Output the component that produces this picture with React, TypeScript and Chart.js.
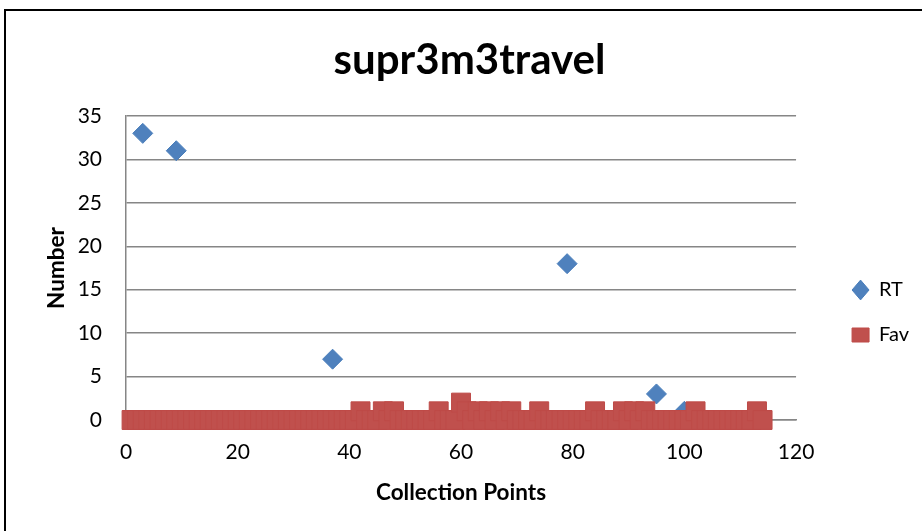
import React, { useEffect, useRef } from "react";
import { Chart, registerables } from "chart.js";

Chart.register(...registerables);

const chartTitle = "supr3m3travel";
const xAxisTitle = "Collection Points";
const yAxisTitle = "Number";

// RT series (collection point, value)
const rtX = [3, 9, 37, 79, 95, 100];
const rtY = [33, 31, 7, 18, 3, 1];

// Fav series (collection point, value)
const favX = [
  1, 2, 3, 4, 5, 6, 7, 8, 9, 10,
  11, 12, 13, 14, 15, 16, 17, 18, 19, 20,
  21, 22, 23, 24, 25, 26, 27, 28, 29, 30,
  31, 32, 33, 34, 35, 36, 37, 38, 39, 40,
  41, 42, 43, 44, 45, 46, 47, 48, 49, 50,
  51, 52, 53, 54, 55, 56, 57, 58, 59, 60,
  61, 62, 63, 64, 65, 66, 67, 68, 69, 70,
  71, 72, 73, 74, 75, 76, 77, 78, 79, 80,
  81, 82, 83, 84, 85, 86, 87, 88, 89, 90,
  91, 92, 93, 94, 95, 96, 97, 98, 99, 100,
  101, 102, 103, 104, 105, 106, 107, 108, 109, 110,
  111, 112, 113, 114,
];
const favY = [
  0, 0, 0, 0, 0, 0, 0, 0, 0, 0,
  0, 0, 0, 0, 0, 0, 0, 0, 0, 0,
  0, 0, 0, 0, 0, 0, 0, 0, 0, 0,
  0, 0, 0, 0, 0, 0, 0, 0, 0, 0,
  0, 1, 0, 0, 0, 1, 0, 1, 0, 0,
  0, 0, 0, 0, 0, 1, 0, 0, 0, 2,
  1, 0, 1, 0, 1, 0, 1, 0, 1, 0,
  0, 0, 0, 1, 0, 0, 0, 0, 0, 0,
  0, 0, 0, 1, 0, 0, 0, 0, 1, 0,
  1, 0, 1, 0, 0, 0, 0, 0, 0, 0,
  0, 1, 0, 0, 0, 0, 0, 0, 0, 0,
  0, 0, 1, 0,
];

const xMin = 0;
const xMax = 120;
const xStep = 20;
const yMin = 0;
const yMax = 35;
const yStep = 5;

const W = 922;
const H = 531;
const FONT = "Lato";
const GRID = "#868686";

export default function App() {
  const ref = useRef<HTMLCanvasElement | null>(null);

  useEffect(() => {
    if (!ref.current) return;
    const rtData = rtX.map((x, i) => ({ x, y: rtY[i] }));
    const favData = favX.map((x, i) => ({ x, y: favY[i] }));
    const chart = new Chart(ref.current, {
      type: "scatter",
      data: {
        datasets: [
          {
            label: "RT",
            data: rtData,
            pointStyle: "rectRot",
            pointRadius: 10,
            pointHoverRadius: 10,
            backgroundColor: "#4F81BD",
            borderColor: "#4A7EBB",
            borderWidth: 1,
            clip: false,
            order: 2,
          },
          {
            label: "Fav",
            data: favData,
            pointStyle: "rect",
            pointRadius: 13.4,
            pointHoverRadius: 13.4,
            backgroundColor: "#C0504D",
            borderColor: "#BE4B48",
            borderWidth: 1,
            clip: false,
            order: 1,
          },
        ],
      },
      options: {
        responsive: false,
        animation: false,
        devicePixelRatio: 1,
        layout: { padding: { left: 20, right: 3, top: 0, bottom: 0 } },
        plugins: {
          tooltip: { enabled: false },
          title: {
            display: true,
            text: chartTitle,
            color: "#000",
            font: { family: FONT, size: 42, weight: "bold", lineHeight: 1.2 },
            padding: { top: 35, bottom: 30.6 },
          },
          legend: {
            display: true,
            position: "right",
            align: "start",
            fullSize: false,
            title: {
              display: true,
              text: " ",
              font: { family: FONT, size: 12, lineHeight: 1.2 },
              padding: { top: 124.6, bottom: 0 },
            },
            labels: {
              usePointStyle: true,
              pointStyleWidth: 17,
              boxHeight: 14,
              padding: 25,
              color: "#000",
              font: { family: FONT, size: 20 },
              sort: (a: any, b: any) => a.datasetIndex - b.datasetIndex,
            },
          },
        },
        scales: {
          x: {
            type: "linear",
            position: "bottom",
            min: xMin,
            max: xMax,
            ticks: {
              stepSize: xStep,
              color: "#000",
              font: { family: FONT, size: 21 },
              padding: 20,
              maxRotation: 0,
            },
            grid: { display: false, drawTicks: false },
            border: { display: true, color: GRID, width: 1.5 },
            title: {
              display: true,
              text: xAxisTitle,
              color: "#000",
              font: { family: FONT, size: 22.5, weight: "bold", lineHeight: 1.2 },
              padding: { top: 0, bottom: 25 },
            },
            afterFit: (s: any) => {
              s.height = H - 420;
            },
          },
          y: {
            type: "linear",
            position: "left",
            min: yMin,
            max: yMax,
            ticks: {
              stepSize: yStep,
              color: "#000",
              font: { family: FONT, size: 21 },
              padding: 24,
            },
            grid: { display: true, color: GRID, lineWidth: 1.5, drawTicks: false },
            border: { display: true, color: GRID, width: 1.5 },
            title: {
              display: true,
              text: yAxisTitle,
              color: "#000",
              font: { family: FONT, size: 22.5, weight: "bold", lineHeight: 1.2 },
              padding: { top: 23, bottom: 0 },
            },
            afterFit: (s: any) => {
              s.width = 126 - 20;
            },
          },
          yGap: {
            type: "linear",
            position: "right",
            display: true,
            ticks: { display: false },
            grid: { display: false, drawTicks: false },
            border: { display: false },
            afterFit: (s: any) => {
              s.width = 31;
            },
          },
        },
      },
    } as any);
    return () => chart.destroy();
  }, []);

  return (
    <div>
      <div
        style={{
          position: "fixed",
          left: 4,
          top: 9,
          width: 1000,
          height: 1000,
          borderLeft: "2px solid #000",
          borderTop: "2px solid #000",
          boxSizing: "border-box",
        }}
      />
      <canvas
        ref={ref}
        width={W}
        height={H}
        style={{ position: "fixed", left: 0, top: 0, width: W, height: H }}
      />
    </div>
  );
}
